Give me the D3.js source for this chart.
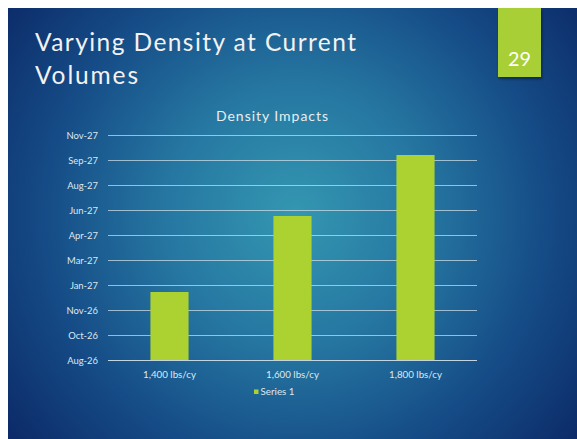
<!DOCTYPE html>
<html><head><meta charset="utf-8">
<script src="https://cdn.jsdelivr.net/npm/d3@7"></script>
<style>
html,body{margin:0;padding:0;background:#fff;overflow:hidden;}
svg{display:block;}
</style></head>
<body>
<svg id="chart" width="577" height="439"></svg>
<script>
// ---- data ----
const slideTitle = ["Varying Density at Current", "Volumes"];
const slideNumber = "29";
const chartTitle = "Density Impacts";
const seriesName = "Series 1";
const categories = ["1,400 lbs/cy", "1,600 lbs/cy", "1,800 lbs/cy"];
const values = ["2027-01-03", "2027-06-04", "2027-10-04"];
const axisStart = "2026-08-20";
const axisStepDays = 50;
const tickLabels = ["Aug-26","Oct-26","Nov-26","Jan-27","Mar-27","Apr-27","Jun-27","Aug-27","Sep-27","Nov-27"];

const FONT = "Lato, 'DejaVu Sans', sans-serif";
const svg = d3.select("#chart");
const W = 577, H = 439;

// background
const defs = svg.append("defs");
const rg = defs.append("radialGradient").attr("id","bg")
  .attr("gradientUnits","userSpaceOnUse").attr("cx",295).attr("cy",215).attr("r",360)
  .attr("fx",295).attr("fy",215);
rg.append("stop").attr("offset",0).attr("stop-color","#3497b1");
rg.append("stop").attr("offset",0.35).attr("stop-color","#2678a2");
rg.append("stop").attr("offset",0.7).attr("stop-color","#154b86");
rg.append("stop").attr("offset",1).attr("stop-color","#0c2b68");
const sh = defs.append("filter").attr("id","shadow").attr("x","-20%").attr("y","-20%").attr("width","150%").attr("height","150%");
sh.append("feDropShadow").attr("dx",1).attr("dy",2).attr("stdDeviation",1.5).attr("flood-color","#000").attr("flood-opacity",0.45);

svg.append("rect").attr("width",W).attr("height",H).attr("fill","#fff");
svg.append("rect").attr("x",8).attr("y",8).attr("width",W-8).attr("height",H-8).attr("fill","url(#bg)");

function fit(sel, target){
  const w = sel.node().getComputedTextLength();
  const fs = parseFloat(sel.attr("font-size"));
  sel.attr("font-size", (fs*target/w).toFixed(2));
  return sel;
}
function spread(sel, target){
  const w = sel.node().getComputedTextLength();
  const n = sel.text().length;
  sel.attr("letter-spacing", ((target - w)/Math.max(1,n-1)).toFixed(2));
  return sel;
}

// slide number box
svg.append("rect").attr("x",498).attr("y",8).attr("width",43).attr("height",69)
  .attr("fill","#a8cf36").attr("filter","url(#shadow)");
fit(svg.append("text").attr("x",519.5).attr("y",66).attr("text-anchor","middle")
  .attr("font-family",FONT).attr("font-size",20).attr("fill","#ffffff").text(slideNumber), 23);

// title
spread(svg.append("text").attr("x",35).attr("y",51).attr("font-family",FONT).attr("font-size",24.5)
  .attr("fill","#f2f2f2").text(slideTitle[0]), 321);
spread(svg.append("text").attr("x",35).attr("y",83.5).attr("font-family",FONT).attr("font-size",24.5)
  .attr("fill","#f2f2f2").text(slideTitle[1]), 103);

// chart title
spread(svg.append("text").attr("x",216).attr("y",121).attr("font-family",FONT)
  .attr("font-size",14).attr("fill","#e8eef2").text(chartTitle), 112);

// scales
const parse = d3.utcParse("%Y-%m-%d");
const t0 = parse(axisStart);
const nT = tickLabels.length;
const tEnd = d3.utcDay.offset(t0, axisStepDays*(nT-1));
const y = d3.scaleUtc().domain([t0, tEnd]).range([360,135]);
const tickVals = d3.range(nT).map(i => d3.utcDay.offset(t0, axisStepDays*i));
const x = d3.scaleBand().domain(categories).range([108,477]).paddingInner(0.69).paddingOuter(0.345);

// gridlines
const yAxis = d3.axisLeft(y).tickValues(tickVals).tickSize(-(477-108)).tickPadding(10)
  .tickFormat((d,i)=>tickLabels[i]);
const gy = svg.append("g").attr("transform","translate(108,0)").call(yAxis);
gy.select(".domain").remove();
gy.selectAll(".tick line").attr("stroke","#c9dbe6").attr("stroke-opacity",0.75).attr("stroke-width",1);
gy.selectAll(".tick text").attr("font-family",FONT).attr("font-size",8.5).attr("fill","#dfe8ee").attr("x",-10);

// bars
svg.append("g").selectAll("rect").data(values).join("rect")
  .attr("x",(d,i)=>x(categories[i]))
  .attr("width",x.bandwidth())
  .attr("y",d=>y(parse(d)))
  .attr("height",d=>y(t0)-y(parse(d)))
  .attr("fill","#acd232");

// baseline redraw on top
svg.append("line").attr("x1",108).attr("x2",477).attr("y1",y(t0)+0.5).attr("y2",y(t0)+0.5)
  .attr("stroke","#c9dbe6").attr("stroke-opacity",0.8);

// category labels
const xAxis = d3.axisBottom(x).tickSize(0).tickPadding(10);
const gx = svg.append("g").attr("transform","translate(0,361)").call(xAxis);
gx.select(".domain").remove();
gx.selectAll(".tick text").attr("font-family",FONT).attr("font-size",8.5).attr("fill","#dfe8ee");

// fit tick font sizes
(function(){
  const n = gy.selectAll(".tick text").filter((d,i)=>i===nT-1).node();
  const w = n.getComputedTextLength();
  gy.selectAll(".tick text").attr("font-size",(8.5*31.5/w).toFixed(2));
  const c = gx.select(".tick text").node();
  const wc = c.getComputedTextLength();
  gx.selectAll(".tick text").attr("font-size",(8.5*53/wc).toFixed(2));
})();

// legend
svg.append("rect").attr("x",254).attr("y",389.5).attr("width",4.5).attr("height",4.5).attr("fill","#acd232");
fit(svg.append("text").attr("x",260.5).attr("y",395).attr("font-family",FONT).attr("font-size",8.5)
  .attr("fill","#dfe8ee").text(seriesName), 34);
</script>
</body></html>
